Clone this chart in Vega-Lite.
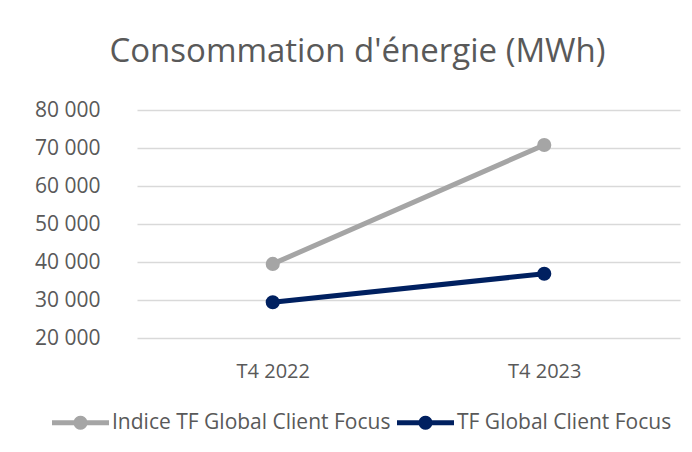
{
  "$schema": "https://vega.github.io/schema/vega-lite/v6.json",
  "width": 543,
  "height": 228,
  "autosize": "none",
  "padding": {"left": 137, "top": 110, "right": 12, "bottom": 114},
  "background": "white",
  "config": {"view": {"stroke": null}, "font": "Open Sans"},
  "title": {
    "text": "Consommation d'énergie (MWh)",
    "font": "Open Sans",
    "fontSize": 33,
    "fontWeight": "normal",
    "color": "#595959",
    "anchor": "middle",
    "dx": -51,
    "offset": 4,
    "baseline": "alphabetic"
  },
  "data": {
    "values": [
      {"trimestre": "T4 2022", "serie": "Indice TF Global Client Focus", "mwh": 39500},
      {"trimestre": "T4 2023", "serie": "Indice TF Global Client Focus", "mwh": 70800},
      {"trimestre": "T4 2022", "serie": "TF Global Client Focus", "mwh": 29400},
      {"trimestre": "T4 2023", "serie": "TF Global Client Focus", "mwh": 36900}
    ]
  },
  "encoding": {
    "x": {
      "field": "trimestre",
      "type": "ordinal",
      "scale": {"type": "point", "padding": 0.5},
      "axis": {
        "title": null,
        "domain": false,
        "ticks": false,
        "grid": false,
        "labelAngle": 0,
        "labelFont": "Open Sans",
        "labelFontSize": 20,
        "labelColor": "#595959",
        "labelPadding": 23
      }
    },
    "y": {
      "field": "mwh",
      "type": "quantitative",
      "scale": {"domain": [20000, 80000], "nice": false, "zero": false},
      "axis": {
        "title": null,
        "domain": false,
        "ticks": false,
        "values": [20000, 30000, 40000, 50000, 60000, 70000, 80000],
        "labelExpr": "replace(format(datum.value, ','), ',', ' ')",
        "labelFont": "Open Sans",
        "labelFontSize": 21,
        "labelColor": "#595959",
        "labelPadding": 37,
        "gridColor": "#D9D9D9",
        "gridWidth": 1.3
      }
    },
    "color": {
      "field": "serie",
      "type": "nominal",
      "scale": {
        "domain": ["Indice TF Global Client Focus", "TF Global Client Focus"],
        "range": ["#A5A5A5", "#002060"]
      },
      "legend": {
        "title": null,
        "orient": "none",
        "direction": "horizontal",
        "legendX": -85,
        "legendY": 284,
        "labelFont": "Open Sans",
        "labelFontSize": 21,
        "labelColor": "#595959",
        "labelLimit": 500,
        "labelOffset": 3,
        "columnPadding": 6,
        "symbolType": "M-1,-0.09L-0.233,-0.09A0.25,0.25,0,0,1,0.233,-0.09L1,-0.09L1,0.09L0.233,0.09A0.25,0.25,0,0,1,-0.233,0.09L-1,0.09Z",
        "symbolSize": 3249,
        "symbolStrokeWidth": 0,
        "encode": {
          "symbols": {
            "update": {
              "fill": {"scale": "color", "field": "value"},
              "stroke": {"value": "transparent"},
              "strokeWidth": {"value": 0},
              "opacity": {"value": 1}
            }
          }
        }
      }
    }
  },
  "layer": [
    {"mark": {"type": "line", "strokeWidth": 5, "strokeCap": "round"}},
    {"mark": {"type": "point", "filled": true, "size": 200, "opacity": 1}}
  ]
}
